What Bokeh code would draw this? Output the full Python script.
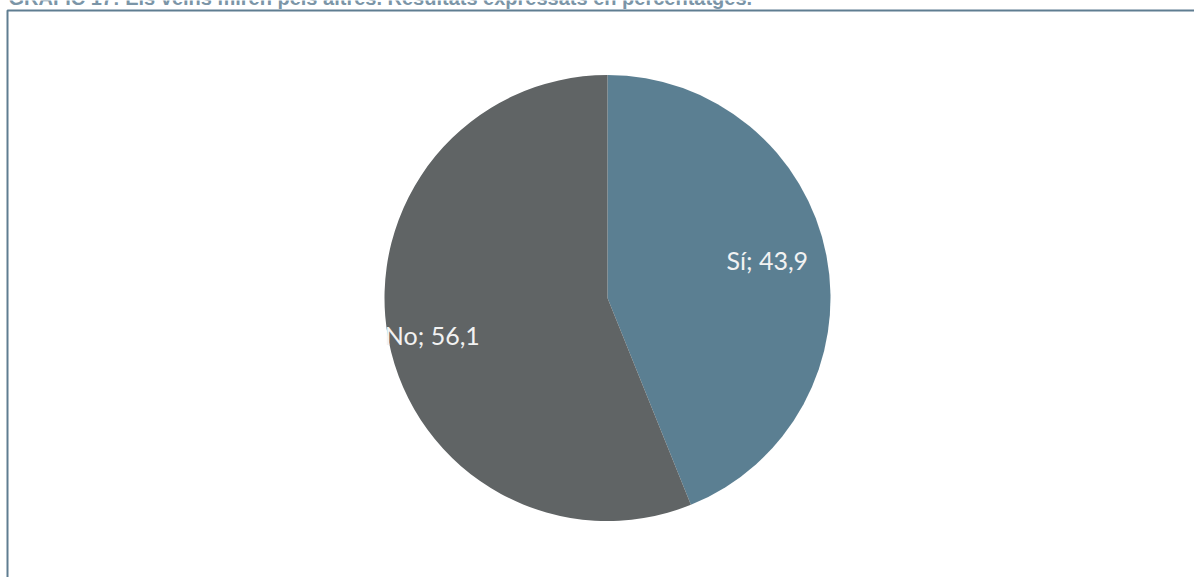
import math
from bokeh.plotting import figure
from bokeh.models import Range1d, ColumnDataSource
from bokeh.core.properties import value
from bokeh.embed import file_html
from bokeh.resources import INLINE

# ---- data ----
categories = ["Sí", "No"]
values = [43.9, 56.1]
colors = ["#5b7f92", "#606465"]
title_text = "GRÀFIC 17: Els veïns miren pels altres. Resultats expressats en percentatges."

W, H = 1194, 577
p = figure(width=W, height=H, output_backend="svg", toolbar_location=None,
           x_range=Range1d(0, W), y_range=Range1d(0, H),
           min_border=0, outline_line_color=None)
p.axis.visible = False
p.grid.visible = False
p.background_fill_color = "white"
p.border_fill_color = "white"
p.styles = {"position": "absolute", "top": "0px", "left": "0px"}

# helper: pixel-y (top-down) to data-y
def py(y):
    return H - y

# frame
p.line(x=[7, 7, W + 5], y=[py(H + 5), py(10), py(10)], line_color="#5f7d91", line_width=2)

# title (clipped at top as in the reference)
p.text(x=[8], y=[py(-3)], text=[title_text], text_font=value("Liberation Sans"),
       text_font_style="bold", text_font_size="20px", text_color="#7b95a7",
       text_baseline="alphabetic", text_align="left")

# pie
cx, cy, r = 607, py(297.5), 223
label_radius = [0.73, 0.80]
label_dy = [7, -3.5]
total = sum(values)
starts, ends, lx, ly, labels = [], [], [], [], []
cum = 0.0
for c, v, f, dy in zip(categories, values, label_radius, label_dy):
    a0 = math.pi / 2 - 2 * math.pi * cum / total
    cum += v
    a1 = math.pi / 2 - 2 * math.pi * cum / total
    starts.append(a1)
    ends.append(a0)
    mid = (a0 + a1) / 2
    lx.append(cx + f * r * math.cos(mid))
    ly.append(cy + f * r * math.sin(mid) + dy)
    labels.append(f"{c}; {str(v).replace('.', ',')}")

src = ColumnDataSource(dict(start=starts, end=ends, color=colors, lx=lx, ly=ly, label=labels))
p.wedge(x=cx, y=cy, radius=r, start_angle="start", end_angle="end",
        fill_color="color", line_color=None, source=src)
p.text(x="lx", y="ly", text="label", source=src, text_font=value("Lato"),
       text_font_size="25px", text_color="#f2f2f2", text_align="center",
       text_baseline="middle")

open("out.html", "w").write(file_html(p, INLINE))
